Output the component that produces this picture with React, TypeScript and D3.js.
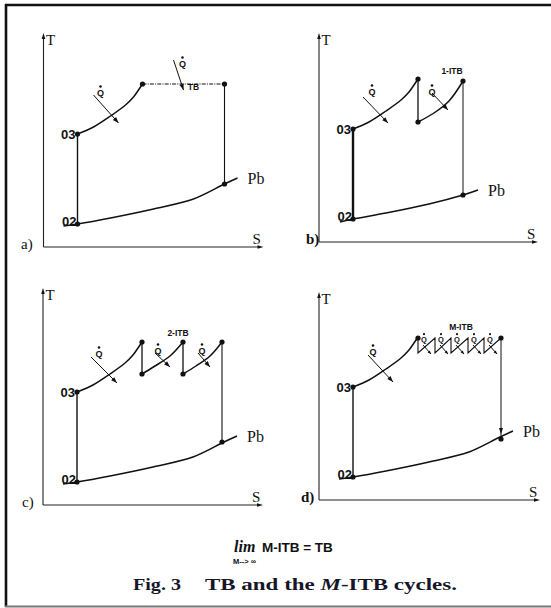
import React from 'react';
import * as d3 from 'd3';

type P = [number, number];

// ---- Cycle data in (S, T) units, shared axis frame for the four diagrams ----
const state02: P = [34, 23];
const state03: P = [34, 113];

// Isobar Pb (exhaust pressure)
const isobarPb: P[] = [[20, 21], [34, 23], [67, 29], [110, 38], [150, 48], [181, 63], [194, 69]];
const isobarPbShort: P[] = [[21, 20], [34, 23], [67, 29], [110, 38], [144, 47], [159, 52]];

// Combustor heat addition from 03 to turbine inlet
const heating: P[] = [[34, 113], [50, 120], [67, 131], [82, 142], [90, 150], [95, 157], [99, 163]];

// a) TB cycle
const tbIsotherm: P[] = [[99, 163], [181, 163]];
const tbExpansion: P[] = [[181, 163], [181, 63]];
const tbDots: P[] = [[99, 163], [181, 163], [181, 63]];
const tbArrows: number[][] = [[50, 152, 75, 124], [130, 187, 140, 157]];
const tbQLabels: P[] = [[57, 151], [139, 180]];

// b) 1-ITB cycle
const itb1Drop: P[] = [[99, 163], [99, 120]];
const itb1Reheat: P[] = [[99, 120], [115, 129], [130, 141], [144, 161]];
const itb1Expansion: P[] = [[144, 161], [144, 47]];
const itb1Dots: P[] = [[99, 163], [99, 120], [144, 161], [144, 47]];
const itb1Arrows: number[][] = [[44, 145, 69, 119], [113, 149, 129, 132]];
const itb1QLabels: P[] = [[53, 147], [113, 147]];

// c) 2-ITB cycle
const itb2Drops: P[][] = [[[99, 163], [99, 131]], [[140, 163], [140, 131]]];
const itb2Reheats: P[][] = [
  [[99, 131], [112, 139], [127, 149], [140, 163]],
  [[140, 131], [153, 139], [167, 149], [179, 163]],
];
const itb2Expansion: P[] = [[179, 163], [179, 63]];
const itb2Dots: P[] = [[99, 163], [99, 131], [140, 163], [140, 131], [179, 163], [179, 63]];
const itb2Arrows: number[][] = [[48, 148, 74, 122], [112, 152, 127, 138], [155, 152, 167, 138]];
const itb2QLabels: P[] = [[56, 148], [115, 151], [159, 151]];

// d) M-ITB cycle
const mitbTeeth: P[] = [
  [99, 162], [99, 147], [116, 162], [116, 147], [132, 162], [132, 147],
  [149, 162], [149, 147], [165, 162], [165, 147], [182, 162],
];
const mitbExpansion: P[] = [[182, 162], [182, 61]];
const mitbDots: P[] = [[99, 162], [182, 162], [182, 61]];
const mitbArrows: number[][] = [
  [49, 145, 74, 118],
  [104, 155, 112, 146], [121, 155, 129, 146], [137, 155, 145, 146],
  [154, 155, 162, 146], [170, 155, 178, 146],
];
const mitbQLabels: P[] = [[54, 145], [105, 158], [122, 158], [138, 158], [155, 158], [171, 158]];

// Labels
const cycleNames = ['TB', '1-ITB', '2-ITB', 'M-ITB'];
const cycleNamePos: P[] = [[150, 157], [133, 168], [135, 169], [142, 170]];

const SERIF = '"Liberation Serif", "Times New Roman", Times, serif';
const SANS = '"Liberation Sans", Arial, Helvetica, sans-serif';
const INK = '#111';

interface Panel {
  id: string;
  ox: number;
  oy: number;
  h: number;
  w: number;
  letter: string;
  lx: number;
  letterBold: boolean;
}

const panels: Panel[] = [
  { id: 'a', ox: 43.5, oy: 247, h: 214, w: 220, letter: 'a)', lx: 21, letterBold: false },
  { id: 'b', ox: 319, oy: 242, h: 209, w: 219, letter: 'b)', lx: 306, letterBold: true },
  { id: 'c', ox: 43, oy: 505, h: 217, w: 220, letter: 'c)', lx: 22, letterBold: false },
  { id: 'd', ox: 319, oy: 500, h: 208, w: 221, letter: 'd)', lx: 301, letterBold: true },
];

function Arrowhead({ x1, y1, x2, y2, len = 6, half = 2.2 }: { x1: number; y1: number; x2: number; y2: number; len?: number; half?: number }) {
  const a = Math.atan2(y2 - y1, x2 - x1);
  const bx = x2 - len * Math.cos(a);
  const by = y2 - len * Math.sin(a);
  const px = -Math.sin(a) * half;
  const py = Math.cos(a) * half;
  return <polygon points={`${x2},${y2} ${bx + px},${by + py} ${bx - px},${by - py}`} fill={INK} />;
}

function QLabel({ x, y, size }: { x: number; y: number; size: number }) {
  return (
    <g>
      <text x={x} y={y} fontFamily={SANS} fontWeight="bold" fontSize={size} textAnchor="middle" fill={INK}>Q</text>
      <circle cx={x} cy={y - size * 1.05} r={size * 0.14} fill={INK} />
    </g>
  );
}

function CycleDiagram({ p }: { p: Panel }) {
  const xs = d3.scaleLinear().domain([0, 220]).range([p.ox, p.ox + 220]);
  const ys = d3.scaleLinear().domain([0, 215]).range([p.oy, p.oy - 215]);
  const curve = d3.line<P>().x(d => xs(d[0])).y(d => ys(d[1])).curve(d3.curveCatmullRom.alpha(0.5));
  const straight = d3.line<P>().x(d => xs(d[0])).y(d => ys(d[1]));

  let isobar = isobarPb;
  let dots: P[] = [];
  let arrows: number[][] = [];
  let qLabels: P[] = [];
  const paths: { d: string; w: number; dash?: string }[] = [];
  let expansionArrow = false;
  let nameIdx = 0;

  paths.push({ d: curve(heating)!, w: 1.5 });
  if (p.id === 'a') {
    paths.push({ d: straight(tbIsotherm)!, w: 1.2, dash: '4 1.2 1 1.2' });
    paths.push({ d: straight(tbExpansion)!, w: 1.1 });
    dots = tbDots; arrows = tbArrows; qLabels = tbQLabels; nameIdx = 0;
  } else if (p.id === 'b') {
    isobar = isobarPbShort;
    paths.push({ d: straight(itb1Drop)!, w: 1.3 });
    paths.push({ d: curve(itb1Reheat)!, w: 1.5 });
    paths.push({ d: straight(itb1Expansion)!, w: 1 });
    dots = itb1Dots; arrows = itb1Arrows; qLabels = itb1QLabels; nameIdx = 1;
  } else if (p.id === 'c') {
    itb2Drops.forEach(s => paths.push({ d: straight(s)!, w: 1.3 }));
    itb2Reheats.forEach(s => paths.push({ d: curve(s)!, w: 1.5 }));
    paths.push({ d: straight(itb2Expansion)!, w: 1.1 });
    dots = itb2Dots; arrows = itb2Arrows; qLabels = itb2QLabels; nameIdx = 2;
  } else {
    paths.push({ d: straight(mitbTeeth)!, w: 1.1 });
    paths.push({ d: straight(mitbExpansion)!, w: 1 });
    dots = mitbDots; arrows = mitbArrows; qLabels = mitbQLabels; nameIdx = 3;
    expansionArrow = true;
  }

  const pbEnd = isobar[isobar.length - 1];
  const topY = p.oy - p.h;
  const rightX = p.ox + p.w;

  return (
    <g>
      {/* axes */}
      <line x1={p.ox} y1={p.oy} x2={p.ox} y2={topY + 4} stroke="#222" strokeWidth={1.1} />
      <Arrowhead x1={p.ox} y1={p.oy} x2={p.ox} y2={topY} len={6} half={1.8} />
      <line x1={p.ox} y1={p.oy} x2={rightX - 4} y2={p.oy} stroke="#222" strokeWidth={1.1} />
      <Arrowhead x1={p.ox} y1={p.oy} x2={rightX} y2={p.oy} len={6} half={1.8} />
      <text x={p.ox + 2.5} y={topY + 12} fontFamily={SERIF} fontSize={15} fill={INK}>T</text>
      <text x={rightX - 11} y={p.oy - 3} fontFamily={SERIF} fontSize={15} fill={INK}>S</text>
      <text x={p.lx} y={p.oy + 2} fontFamily={SERIF} fontSize={15} fontWeight={p.letterBold ? 'bold' : 'normal'} fill={INK}>{p.letter}</text>

      {/* isobar and compression */}
      <path d={curve(isobar)!} fill="none" stroke={INK} strokeWidth={1.5} />
      <line x1={xs(state02[0])} y1={ys(state02[1])} x2={xs(state03[0])} y2={ys(state03[1])} stroke={INK} strokeWidth={p.id === 'b' ? 2.4 : 1.4} />
      <text x={xs(pbEnd[0]) + 10} y={ys(pbEnd[1]) + 6} fontFamily={SERIF} fontSize={16} fill={INK}>Pb</text>
      <text x={xs(state03[0]) - 2} y={ys(state03[1]) + 5} fontFamily={SANS} fontWeight="bold" fontSize={13} textAnchor="end" fill={INK}>03</text>
      <text x={xs(state02[0]) - 1} y={ys(state02[1]) + 2} fontFamily={SANS} fontWeight="bold" fontSize={13} textAnchor="end" fill={INK}>02</text>

      {/* process lines */}
      {paths.map((s, i) => (
        <path key={i} d={s.d} fill="none" stroke={INK} strokeWidth={s.w} strokeDasharray={s.dash} />
      ))}
      {expansionArrow && (
        <Arrowhead x1={xs(182)} y1={ys(90)} x2={xs(182)} y2={ys(66)} len={6} half={2} />
      )}

      {/* heat input arrows */}
      {arrows.map((a, i) => {
        const x1 = xs(a[0]), y1 = ys(a[1]), x2 = xs(a[2]), y2 = ys(a[3]);
        const small = p.id === 'd' && i > 0;
        return (
          <g key={i}>
            <line x1={x1} y1={y1} x2={x2} y2={y2} stroke={INK} strokeWidth={1} />
            <Arrowhead x1={x1} y1={y1} x2={x2} y2={y2} len={small ? 3.5 : 6} half={small ? 1.5 : 2.2} />
          </g>
        );
      })}
      {qLabels.map((q, i) => (
        <QLabel key={i} x={xs(q[0])} y={ys(q[1])} size={p.id === 'd' && i > 0 ? 7.5 : 9} />
      ))}

      {/* state points */}
      {[state02, state03, ...dots].map((d, i) => (
        <circle key={i} cx={xs(d[0])} cy={ys(d[1])} r={2.6} fill={INK} />
      ))}

      <text x={xs(cycleNamePos[nameIdx][0])} y={ys(cycleNamePos[nameIdx][1])} fontFamily={SANS} fontWeight="bold" fontSize={8.5} textAnchor="middle" fill={INK}>
        {cycleNames[nameIdx]}
      </text>
    </g>
  );
}

export default function App() {
  return (
    <svg width={551} height={608} viewBox="0 0 551 608" style={{ position: 'absolute', left: 0, top: 0, background: '#fff' }}>
      <rect x={0} y={0} width={551} height={608} fill="#fff" />
      {/* figure frame */}
      <line x1={6} y1={4} x2={6} y2={607} stroke="#111" strokeWidth={2.6} />
      <line x1={5} y1={5} x2={551} y2={5} stroke="#111" strokeWidth={2.4} />
      <line x1={5} y1={606.5} x2={551} y2={606.5} stroke="#777" strokeWidth={2} />

      {panels.map(p => <CycleDiagram key={p.id} p={p} />)}

      {/* limit relation */}
      <text x={234} y={552} fontFamily={SERIF} fontStyle="italic" fontWeight="bold" fontSize={16} fill={INK}>lim</text>
      <text x={262} y={552} fontFamily={SANS} fontWeight="bold" fontSize={13.5} fill={INK}>M-ITB = TB</text>
      <text x={233} y={564} fontFamily={SANS} fontWeight="bold" fontSize={7.5} fill={INK}>M--&gt; ∞</text>

      {/* caption */}
      <text x={133} y={590} fontFamily={SERIF} fontWeight="bold" fontSize={17} fill="#161628" textLength={48} lengthAdjust="spacingAndGlyphs">Fig. 3</text>
      <text x={205} y={590} fontFamily={SERIF} fontWeight="bold" fontSize={17} fill="#161628" textLength={252} lengthAdjust="spacingAndGlyphs">
        TB and the <tspan fontStyle="italic">M</tspan>-ITB cycles.
      </text>
    </svg>
  );
}
